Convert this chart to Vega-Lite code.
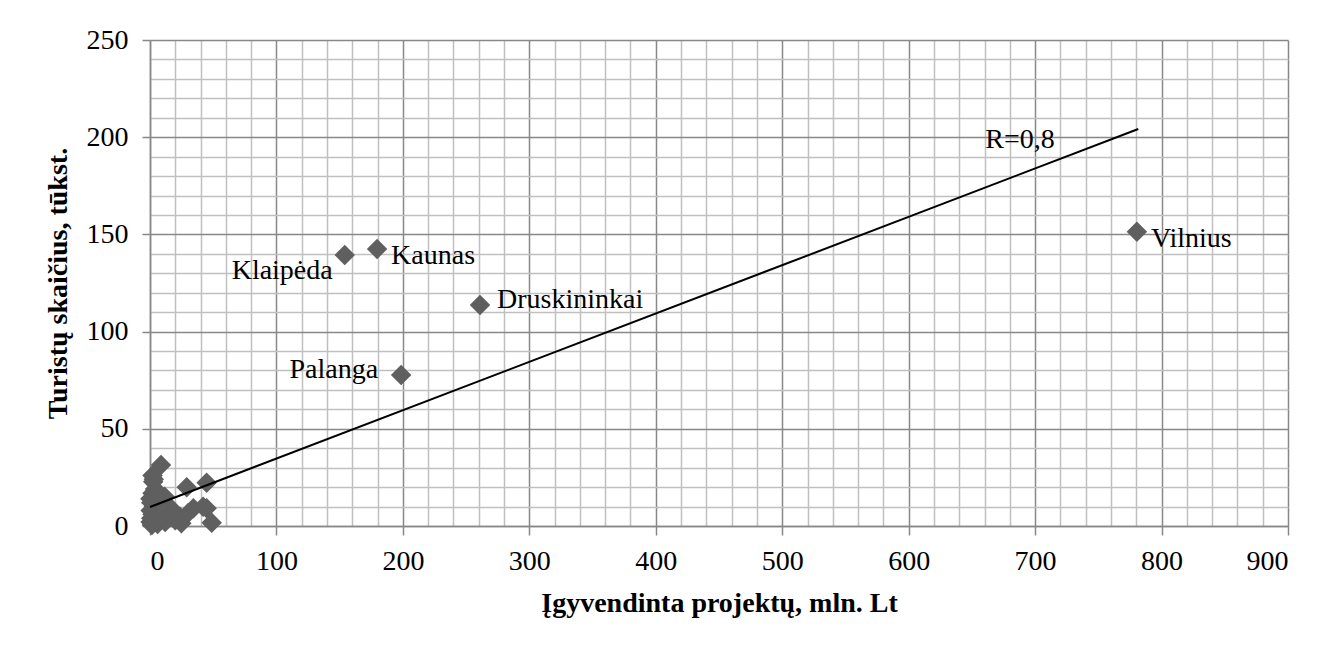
{
  "$schema": "https://vega.github.io/schema/vega-lite/v6.json",
  "width": 1138,
  "height": 486,
  "autosize": {"type": "none"},
  "padding": {"left": 150, "top": 40, "right": 42, "bottom": 120},
  "background": "white",
  "config": {
    "view": {"stroke": null},
    "font": "Liberation Serif",
    "axis": {"labelFont": "Liberation Serif", "titleFont": "Liberation Serif"},
    "text": {"font": "Liberation Serif"}
  },
  "datasets": {
    "pts": [
      {"x": 154, "y": 139.4, "name": "Klaipėda"},
      {"x": 179.6, "y": 142.5, "name": "Kaunas"},
      {"x": 261, "y": 113.7, "name": "Druskininkai"},
      {"x": 198.6, "y": 77.7, "name": "Palanga"},
      {"x": 780.5, "y": 151.4, "name": "Vilnius"},
      {"x": 8.7, "y": 31.4, "name": ""},
      {"x": 2, "y": 26, "name": ""},
      {"x": 2.5, "y": 22.8, "name": ""},
      {"x": 4, "y": 19, "name": ""},
      {"x": 29, "y": 19.9, "name": ""},
      {"x": 44.8, "y": 22.3, "name": ""},
      {"x": 2, "y": 16.8, "name": ""},
      {"x": 6.5, "y": 14.4, "name": ""},
      {"x": 11.6, "y": 15, "name": ""},
      {"x": 44.8, "y": 9.1, "name": ""},
      {"x": 34.3, "y": 9.1, "name": ""},
      {"x": 23.7, "y": 4.8, "name": ""},
      {"x": 48.8, "y": 1.7, "name": ""},
      {"x": 16, "y": 9.5, "name": ""},
      {"x": 30, "y": 6.5, "name": ""},
      {"x": 42, "y": 9.9, "name": ""},
      {"x": 24.8, "y": 1.4, "name": ""},
      {"x": 1, "y": 12, "name": ""},
      {"x": 3, "y": 10, "name": ""},
      {"x": 0.5, "y": 8, "name": ""},
      {"x": 2, "y": 6, "name": ""},
      {"x": 5, "y": 7, "name": ""},
      {"x": 1, "y": 4, "name": ""},
      {"x": 3, "y": 3, "name": ""},
      {"x": 0.5, "y": 2, "name": ""},
      {"x": 6, "y": 1, "name": ""},
      {"x": 10, "y": 5, "name": ""},
      {"x": 12, "y": 2, "name": ""},
      {"x": 8, "y": 9, "name": ""},
      {"x": 1.5, "y": 0.5, "name": ""},
      {"x": 4, "y": 12, "name": ""},
      {"x": 7, "y": 4, "name": ""},
      {"x": 18, "y": 6, "name": ""},
      {"x": 14, "y": 8, "name": ""},
      {"x": 20, "y": 3, "name": ""},
      {"x": 0.3, "y": 14, "name": ""},
      {"x": 2, "y": 1.5, "name": ""},
      {"x": 5, "y": 17, "name": ""},
      {"x": 9, "y": 11, "name": ""},
      {"x": 3, "y": 24, "name": ""}
    ],
    "trend": [
      {"x": 0, "y": 9.8},
      {"x": 781.6, "y": 204.2}
    ],
    "rlabel": [
      {"x": 660.6, "y": 194.4, "text": "R=0,8"}
    ]
  },
  "resolve": {"axis": {"x": "independent", "y": "independent"}},
  "layer": [
    {
      "data": {"name": "pts"},
      "mark": {"type": "point", "shape": "diamond", "filled": true, "size": 420, "color": "#5f5f5f", "opacity": 1},
      "encoding": {
        "x": {"field": "x", "type": "quantitative",
          "scale": {"domain": [0, 900], "nice": false, "zero": false},
          "axis": {"orient": "top", "values": [20,40,60,80,120,140,160,180,220,240,260,280,320,340,360,380,420,440,460,480,520,540,560,580,620,640,660,680,720,740,760,780,820,840,860,880],
            "grid": true, "gridColor": "#c0c0c0", "gridWidth": 1.5, "gridOpacity": 1,
            "domain": false, "ticks": false, "labels": false, "title": null}},
        "y": {"field": "y", "type": "quantitative",
          "scale": {"domain": [0, 250], "nice": false, "zero": false},
          "axis": {"orient": "right", "values": [10,20,30,40,60,70,80,90,110,120,130,140,160,170,180,190,210,220,230,240],
            "grid": true, "gridColor": "#c0c0c0", "gridWidth": 1.5, "gridOpacity": 1,
            "domain": false, "ticks": false, "labels": false, "title": null}}
      }
    },
    {
      "data": {"name": "trend"},
      "mark": {"type": "line", "color": "#000000", "strokeWidth": 2},
      "encoding": {
        "x": {"field": "x", "type": "quantitative",
          "axis": {"orient": "bottom", "values": [0,100,200,300,400,500,600,700,800,900],
            "grid": true, "gridColor": "#888888", "gridWidth": 1.5, "gridOpacity": 1,
            "domain": true, "domainColor": "#888888", "domainWidth": 1.5,
            "ticks": true, "tickColor": "#888888", "tickSize": 9, "tickWidth": 1.5,
            "labelFont": "Liberation Serif", "labelFontSize": 28, "labelColor": "#000000", "labelPadding": 12,
            "title": "Įgyvendinta projektų, mln. Lt", "titleFont": "Liberation Serif", "titleFontSize": 28,
            "titleFontWeight": "bold", "titleColor": "#000000", "titlePadding": 14}},
        "y": {"field": "y", "type": "quantitative",
          "axis": {"orient": "left", "values": [0,50,100,150,200,250],
            "grid": true, "gridColor": "#888888", "gridWidth": 1.5, "gridOpacity": 1,
            "domain": true, "domainColor": "#888888", "domainWidth": 1.5,
            "ticks": true, "tickColor": "#888888", "tickSize": 8, "tickWidth": 1.5,
            "labelFont": "Liberation Serif", "labelFontSize": 28, "labelColor": "#000000", "labelPadding": 14,
            "title": "Turistų skaičius, tūkst.", "titleFont": "Liberation Serif", "titleFontSize": 28,
            "titleFontWeight": "bold", "titleColor": "#000000", "titlePadding": 14}}
      }
    },
    {
      "data": {"name": "pts"},
      "transform": [{"filter": "datum.name == 'Palanga'"}],
      "mark": {"type": "text", "align": "right", "baseline": "alphabetic", "dx": -23, "dy": 3, "font": "Liberation Serif", "fontSize": 28, "color": "#000000"},
      "encoding": {
        "x": {"field": "x", "type": "quantitative", "axis": null},
        "y": {"field": "y", "type": "quantitative", "axis": null},
        "text": {"field": "name"}
      }
    },
    {
      "data": {"name": "pts"},
      "transform": [{"filter": "datum.name == 'Klaipėda'"}],
      "mark": {"type": "text", "align": "right", "baseline": "alphabetic", "dx": -12, "dy": 24, "font": "Liberation Serif", "fontSize": 28, "color": "#000000"},
      "encoding": {
        "x": {"field": "x", "type": "quantitative", "axis": null},
        "y": {"field": "y", "type": "quantitative", "axis": null},
        "text": {"field": "name"}
      }
    },
    {
      "data": {"name": "pts"},
      "transform": [{"filter": "datum.name == 'Druskininkai'"}],
      "mark": {"type": "text", "align": "left", "baseline": "alphabetic", "dx": 17, "dy": 3, "font": "Liberation Serif", "fontSize": 28, "color": "#000000"},
      "encoding": {
        "x": {"field": "x", "type": "quantitative", "axis": null},
        "y": {"field": "y", "type": "quantitative", "axis": null},
        "text": {"field": "name"}
      }
    },
    {
      "data": {"name": "pts"},
      "transform": [{"filter": "datum.name == 'Kaunas' || datum.name == 'Vilnius'"}],
      "mark": {"type": "text", "align": "left", "baseline": "alphabetic", "dx": 14, "dy": 15, "font": "Liberation Serif", "fontSize": 28, "color": "#000000"},
      "encoding": {
        "x": {"field": "x", "type": "quantitative", "axis": null},
        "y": {"field": "y", "type": "quantitative", "axis": null},
        "text": {"field": "name"}
      }
    },
    {
      "data": {"name": "rlabel"},
      "mark": {"type": "text", "align": "left", "baseline": "alphabetic", "font": "Liberation Serif", "fontSize": 28, "color": "#000000"},
      "encoding": {
        "x": {"field": "x", "type": "quantitative", "axis": null},
        "y": {"field": "y", "type": "quantitative", "axis": null},
        "text": {"field": "text"}
      }
    }
  ]
}
